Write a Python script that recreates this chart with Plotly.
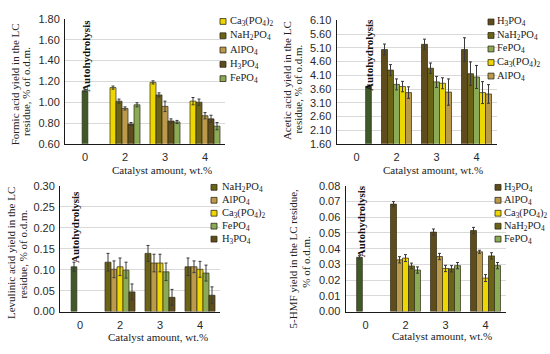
import plotly.graph_objects as go

W, H = 550, 354

# ---------------- data ----------------
categories = ['0', '2', '3', '4']
catalyst_amounts = ['2', '3', '4']

series_labels = {
    'Ca': 'Ca<sub>3</sub>(PO<sub>4</sub>)<sub>2</sub>',
    'Na': 'NaH<sub>2</sub>PO<sub>4</sub>',
    'Al': 'AlPO<sub>4</sub>',
    'H3': 'H<sub>3</sub>PO<sub>4</sub>',
    'Fe': 'FePO<sub>4</sub>',
}
auto_label = 'Autohydrolysis'

# Formic acid
formic_series = ['Ca', 'Na', 'Al', 'H3', 'Fe']
formic_values = [[1.14, 1.19, 1.01], [1.01, 1.07, 1.00], [0.94, 0.96, 0.87],
                 [0.79, 0.82, 0.84], [0.975, 0.81, 0.77]]
formic_errors = [[0.015, 0.015, 0.035], [0.02, 0.02, 0.03], [0.015, 0.05, 0.03],
                 [0.015, 0.02, 0.035], [0.02, 0.015, 0.035]]
formic_auto = 1.11
formic_auto_err = 0.01

# Acetic acid
acetic_series = ['H3', 'Na', 'Fe', 'Ca', 'Al']
acetic_values = [[5.04, 5.23, 5.04], [4.29, 4.36, 4.16], [3.77, 3.86, 4.04],
                 [3.69, 3.81, 3.47], [3.47, 3.49, 3.42]]
acetic_errors = [[0.2, 0.19, 0.43], [0.2, 0.19, 0.43], [0.2, 0.2, 0.42],
                 [0.19, 0.2, 0.4], [0.21, 0.48, 0.34]]
acetic_auto = 3.70
acetic_auto_err = 0.05

# Levulinic acid
levulinic_series = ['Na', 'Al', 'Ca', 'Fe', 'H3']
levulinic_values = [[0.118, 0.139, 0.107], [0.101, 0.116, 0.107], [0.107, 0.116, 0.101],
                    [0.099, 0.095, 0.092], [0.047, 0.034, 0.039]]
levulinic_errors = [[0.021, 0.019, 0.021], [0.02, 0.021, 0.014], [0.021, 0.021, 0.019],
                    [0.019, 0.021, 0.019], [0.019, 0.019, 0.02]]
levulinic_auto = 0.107
levulinic_auto_err = 0.011

# 5-HMF
hmf_series = ['H3', 'Al', 'Ca', 'Na', 'Fe']
hmf_values = [[0.0683, 0.0505, 0.0515], [0.0329, 0.035, 0.038], [0.034, 0.0274, 0.0213],
              [0.029, 0.0272, 0.0354], [0.0264, 0.0292, 0.0292]]
hmf_errors = [[0.0016, 0.002, 0.002], [0.002, 0.002, 0.001], [0.0022, 0.002, 0.0022],
              [0.0018, 0.002, 0.002], [0.002, 0.002, 0.002]]
hmf_auto = 0.0345
hmf_auto_err = 0.001

# ---------------- styles ----------------
colors = {
    'Ca': '#EED600',
    'Na': '#6B6416',
    'Al': '#BC9A4C',
    'H3': '#5F4C1C',
    'Fe': '#8AAA55',
}
auto_color = '#3F5A28'
edge = '#2E2A14'
SERIF = 'Liberation Serif'
SANS = 'Liberation Sans'
LEG_SIZE = 10.5

panels = [
    dict(ax='', series=formic_series, values=formic_values, errors=formic_errors,
         auto=formic_auto, auto_err=formic_auto_err, auto_slot=2,
         xdom=(65, 225), ytop=13.3, ybot=142.7, yrange=(0.6, 1.8001), dtick=0.2, tick0=0.6,
         ytitle=[('Formic acid yield in the LC', 15, 81), ('residue, % of o.d.m.', 26, 89)],
         xtitle=(162, 169.5), auto_yshift=1,
         legend=dict(sx=223, tx=228.5, y0=16, dy=14.8)),
    dict(ax='2', series=acetic_series, values=acetic_values, errors=acetic_errors,
         auto=acetic_auto, auto_err=acetic_auto_err, auto_slot=4,
         xdom=(336.5, 496.5), ytop=15, ybot=142.7, yrange=(1.6, 6.1001), dtick=0.5, tick0=1.6,
         ytitle=[('Acetic acid yield in the LC', 287.7, 77), ('residue, % of o.d.m.', 298.5, 86)],
         xtitle=(433, 169.5), auto_yshift=3,
         legend=dict(sx=491, tx=496, y0=16.5, dy=14.0)),
    dict(ax='3', series=levulinic_series, values=levulinic_values, errors=levulinic_errors,
         auto=levulinic_auto, auto_err=levulinic_auto_err, auto_slot=1,
         xdom=(60, 220), ytop=186.3, ybot=316.3, yrange=(0, 0.3001), dtick=0.05, tick0=0,
         ytitle=[('Levulinic acid yield in the LC', 11.7, 256), ('residue, % of o.d.m.', 23.3, 257)],
         xtitle=(157.5, 343), auto_yshift=-3,
         legend=dict(sx=214, tx=221, y0=187.7, dy=13.4)),
    dict(ax='4', series=hmf_series, values=hmf_values, errors=hmf_errors,
         auto=hmf_auto, auto_err=hmf_auto_err, auto_slot=1,
         xdom=(345.5, 505.5), ytop=186, ybot=316.3, yrange=(0, 0.08001), dtick=0.01, tick0=0,
         ytitle=[('5-HMF yield in the LC residue,', 293.3, 261), ('% of o.d.m.', 305.7, 265)],
         xtitle=(441.7, 342), auto_yshift=2,
         legend=dict(sx=498, tx=503, y0=187.7, dy=13.4)),
]

fig = go.Figure()
annotations = []
shapes = []
BARW = 0.15

for p in panels:
    xa = 'x' + p['ax']
    ya = 'y' + p['ax']
    for key, vals, errs in zip(p['series'], p['values'], p['errors']):
        fig.add_trace(go.Bar(
            x=catalyst_amounts, y=vals, name=series_labels[key],
            marker=dict(color=colors[key], line=dict(color=edge, width=0.7)),
            error_y=dict(type='data', array=errs, color='#3A3A3A', thickness=1, width=1.5),
            xaxis=xa, yaxis=ya, showlegend=False))
    center = (p['auto_slot'] - 2) * BARW
    fig.add_trace(go.Bar(
        x=[categories[0]], y=[p['auto']], name=auto_label,
        width=BARW * 0.95, offset=center - BARW * 0.95 / 2,
        marker=dict(color=auto_color, line=dict(color=edge, width=0.7)),
        error_y=dict(type='data', array=[p['auto_err']], color='#3A3A3A', thickness=1, width=1.5),
        xaxis=xa, yaxis=ya, showlegend=False))

    x0, x1 = p['xdom']
    xkey = 'xaxis' + p['ax']
    ykey = 'yaxis' + p['ax']
    fig.update_layout(**{
        xkey: dict(domain=[x0 / W, x1 / W], anchor=ya, type='category',
                   categoryorder='array', categoryarray=categories, range=[-0.5, 3.5],
                   showline=True, linecolor='#1A1A1A', linewidth=1, showgrid=False,
                   ticks='', tickfont=dict(family=SANS, size=11, color='#2A2A2A'),
                   ticklabelstandoff=3, fixedrange=True),
        ykey: dict(domain=[1 - p['ybot'] / H, 1 - p['ytop'] / H], anchor=xa,
                   range=list(p['yrange']), tick0=p['tick0'], dtick=p['dtick'],
                   tickformat='.2f', showline=True, linecolor='#1A1A1A', linewidth=1,
                   showgrid=True, gridcolor='#D9D9D9', gridwidth=1, zeroline=False,
                   ticks='', tickfont=dict(family=SANS, size=11, color='#2A2A2A'),
                   ticklabelstandoff=2, fixedrange=True),
    })

    # Autohydrolysis label
    annotations.append(dict(
        x=center, xref=xa, y=1, yref=ya + ' domain', text='<b>' + auto_label + '</b>',
        textangle=-90, showarrow=False, xanchor='center', yanchor='top',
        xshift=1, yshift=p['auto_yshift'],
        font=dict(family=SERIF, size=11, color='#111111')))

    # axis titles
    for txt, px, py in p['ytitle']:
        annotations.append(dict(
            x=px / W, y=1 - py / H, xref='paper', yref='paper', text=txt, textangle=-90,
            showarrow=False, xanchor='center', yanchor='middle',
            font=dict(family=SERIF, size=11, color='#222222')))
    annotations.append(dict(
        x=p['xtitle'][0] / W, y=1 - p['xtitle'][1] / H, xref='paper', yref='paper',
        text='Catalyst amount, wt.%', showarrow=False, xanchor='center', yanchor='middle',
        font=dict(family=SERIF, size=11, color='#222222')))

    # legend
    lg = p['legend']
    for i, key in enumerate(p['series']):
        cy = lg['y0'] + i * lg['dy']
        shapes.append(dict(
            type='rect', xref='paper', yref='paper',
            x0=(lg['sx'] - 3) / W, x1=(lg['sx'] + 3) / W,
            y0=1 - (cy + 3) / H, y1=1 - (cy - 3) / H,
            fillcolor=colors[key], line=dict(color=edge, width=0.8)))
        annotations.append(dict(
            x=lg['tx'] / W, y=1 - cy / H, xref='paper', yref='paper',
            text=series_labels[key], showarrow=False, xanchor='left', yanchor='middle',
            borderpad=0,
            font=dict(family=SERIF, size=LEG_SIZE, color='#222222')))

fig.update_layout(
    width=W, height=H, autosize=False,
    margin=dict(l=0, r=0, t=0, b=0),
    paper_bgcolor='white', plot_bgcolor='white',
    barmode='group', bargap=0.25, bargroupgap=0,
    showlegend=False, hovermode=False,
    annotations=annotations, shapes=shapes,
)

fig.write_html('out.html',
               config={'displayModeBar': False, 'staticPlot': True},
               post_script="document.body.style.margin='0px';document.body.style.padding='0px';")
